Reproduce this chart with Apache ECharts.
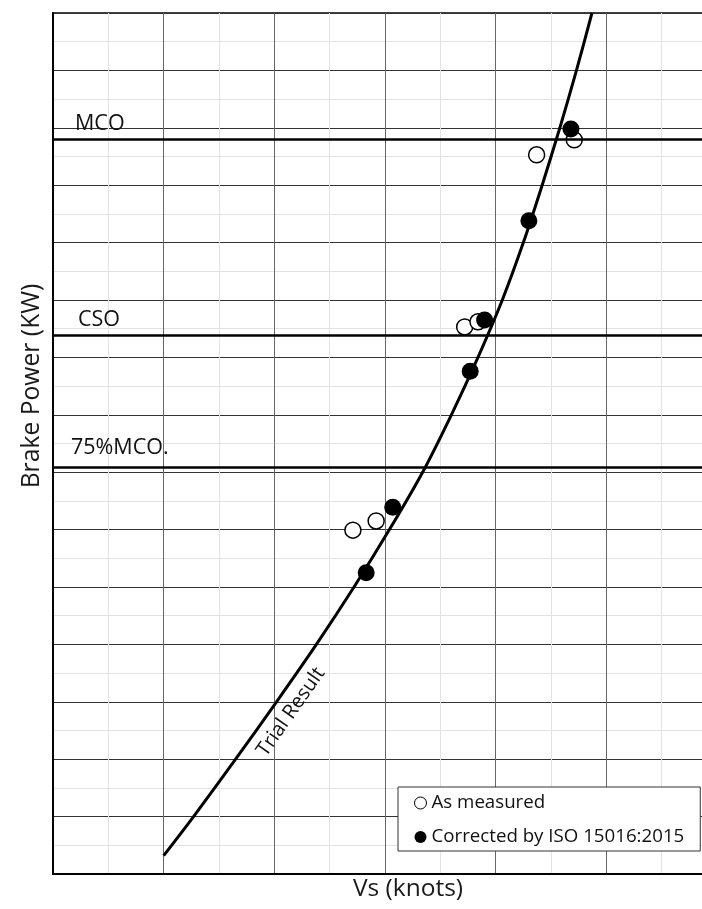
<!DOCTYPE html>
<html>
<head>
<meta charset="utf-8">
<script src="https://cdn.jsdelivr.net/npm/echarts@6/dist/echarts.min.js"></script>
<style>
html,body{margin:0;padding:0;background:#fff;}
#chart{width:702px;height:909px;}
</style>
</head>
<body>
<div id="chart"></div>
<script>
// ---- data ----
// Trial result curve: speed (knots) where the curve crosses each power level (kW)
const curveSpeed = [11.00, 11.27, 11.65, 12.02, 12.38, 12.72, 13.04, 13.34, 13.60, 13.84, 14.06, 14.25, 14.42, 14.58, 14.73, 14.87];
const curvePower = [320, 1000, 2000, 3000, 4000, 5000, 6000, 7000, 8000, 9000, 10000, 11000, 12000, 13000, 14000, 15000];

const measuredSpeed = [12.71, 12.92, 13.72, 13.84, 14.37, 14.71];
const measuredPower = [5990, 6150, 9530, 9620, 12530, 12790];

const correctedSpeed = [12.83, 13.07, 13.77, 13.90, 14.30, 14.68];
const correctedPower = [5250, 6390, 8760, 9650, 11380, 12980];

const refNames = ['MCO', 'CSO', '75%MCO.'];
const refValues = [12800, 9390, 7090];

const seriesNames = ['As measured', 'Corrected by ISO 15016:2015'];
const curveName = 'Trial Result';
const xTitle = 'Vs (knots)';
const yTitle = 'Brake Power (KW)';

// ---- build ----
const FONT = 'Open Sans';
const zip = (a, b) => a.map((v, i) => [v, b[i]]);
const refLabelDist = [[22, 3.8], [25, 3], [18, 7]];

const chart = echarts.init(document.getElementById('chart'), null, {renderer: 'canvas'});

const option = {
  backgroundColor: '#fff',
  animation: false,
  textStyle: {fontFamily: FONT},
  grid: {
    left: 53, top: 13, bottom: 35, right: -15,
    outerBoundsMode: 'none',
    show: true, borderColor: '#000', borderWidth: 1.5, backgroundColor: 'transparent'
  },
  xAxis: {
    type: 'value', min: 10, max: 16, interval: 1,
    axisLine: {show: true, onZero: false, lineStyle: {color: '#000', width: 2}},
    axisTick: {show: false}, axisLabel: {show: false},
    splitLine: {show: true, lineStyle: {color: '#666', width: 1}},
    minorTick: {show: false, splitNumber: 2},
    minorSplitLine: {show: true, lineStyle: {color: '#e2e2e2', width: 1}}
  },
  yAxis: {
    type: 'value', min: 0, max: 15000, interval: 1000,
    axisLine: {show: true, onZero: false, lineStyle: {color: '#000', width: 2}},
    axisTick: {show: false}, axisLabel: {show: false},
    splitLine: {show: true, lineStyle: {color: '#333', width: 1}},
    minorTick: {show: false, splitNumber: 2},
    minorSplitLine: {show: true, lineStyle: {color: '#e2e2e2', width: 1}}
  },
  legend: {
    orient: 'vertical', left: 398, top: 787,
    backgroundColor: '#fff', borderColor: '#333', borderWidth: 1,
    padding: [5, 16, 3, 16],
    itemWidth: 12, itemHeight: 12, itemGap: 12,
    textStyle: {fontFamily: FONT, fontSize: 18.7, color: '#111', lineHeight: 22},
    data: [
      {name: seriesNames[0], icon: 'circle', itemStyle: {color: '#fff', borderColor: '#000', borderWidth: 1}},
      {name: seriesNames[1], icon: 'circle', itemStyle: {color: '#000'}}
    ]
  },
  series: [
    {
      name: curveName, type: 'line', data: zip(curveSpeed, curvePower),
      smooth: 0.3, showSymbol: false, symbol: 'none',
      lineStyle: {color: '#000', width: 3}, z: 3, silent: true,
      markLine: {
        silent: true, symbol: ['none', 'none'], animation: false,
        lineStyle: {color: '#000', width: 2.5, type: 'solid'},
        data: refValues.map((v, i) => ({
          yAxis: v,
          label: {
            show: true, position: 'insideStartTop', formatter: refNames[i],
            distance: refLabelDist[i],
            fontFamily: FONT, fontSize: 21.5, lineHeight: 24, color: '#111'
          }
        }))
      }
    },
    {
      name: seriesNames[0], type: 'scatter', data: zip(measuredSpeed, measuredPower),
      symbol: 'circle', symbolSize: 16,
      itemStyle: {color: '#fff', borderColor: '#000', borderWidth: 1.5, opacity: 1}, z: 4
    },
    {
      name: seriesNames[1], type: 'scatter', data: zip(correctedSpeed, correctedPower),
      symbol: 'circle', symbolSize: 17,
      itemStyle: {color: '#000', opacity: 1}, z: 5
    }
  ],
  graphic: [
    {type: 'text', x: 32, y: 386, rotation: Math.PI / 2,
     style: {text: yTitle, x: 0, y: 0, align: 'center', verticalAlign: 'middle',
             font: '24.7px "' + FONT + '"', fill: '#1a1a1a'}},
    {type: 'text', x: 408, y: 889,
     style: {text: xTitle, x: 0, y: 0, align: 'center', verticalAlign: 'middle',
             font: '24.5px "' + FONT + '"', fill: '#1a1a1a'}},
    {type: 'text', x: 291, y: 712, rotation: 55 * Math.PI / 180, z: 10,
     style: {text: curveName, x: 0, y: 0, align: 'center', verticalAlign: 'middle',
             font: '20px "' + FONT + '"', fill: '#111'}}
  ]
};
chart.setOption(option);
</script>
</body>
</html>
